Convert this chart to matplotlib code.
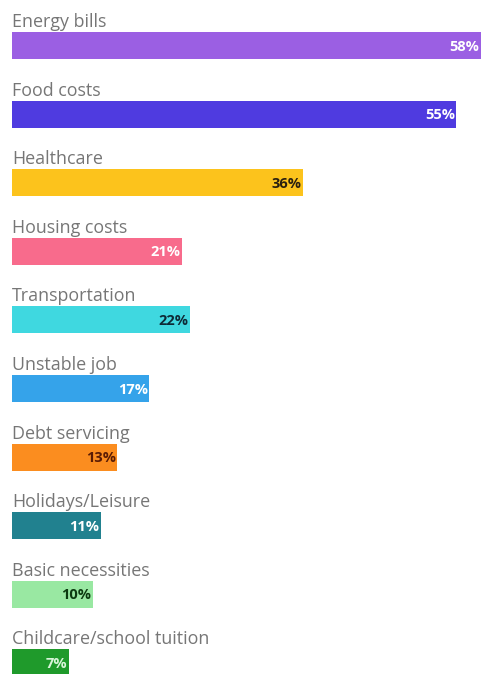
import matplotlib.pyplot as plt

categories = [
    "Energy bills", "Food costs", "Healthcare", "Housing costs",
    "Transportation", "Unstable job", "Debt servicing", "Holidays/Leisure",
    "Basic necessities", "Childcare/school tuition",
]
shares = [58, 55, 36, 21, 22, 17, 13, 11, 10, 7]
bar_colors = [
    "#9b5fe3", "#4f3be0", "#fcc31c", "#f86b8c", "#3fd8e0",
    "#35a3ea", "#fb8d1f", "#21818f", "#99e8a2", "#1f9a2b",
]
value_colors = [
    "white", "white", "#2a2010", "white", "#0e2a36",
    "white", "#5a1c05", "white", "#0c3a10", "#d9f5d9",
]

plt.rcParams["font.family"] = ["Open Sans", "DejaVu Sans"]

fig = plt.figure(figsize=(4.83, 6.74), dpi=100)
ax = fig.add_axes([12 / 483, 0, 471 / 483, 1])

bar_h = 0.394
ypos = list(range(len(categories)))
ax.barh(ypos, shares, height=bar_h, color=bar_colors, left=0)

for i, (cat, v) in enumerate(zip(categories, shares)):
    # category name sits just above its bar
    ax.annotate(cat, xy=(0, i - bar_h / 2), xytext=(0, 3.6),
                textcoords="offset points", ha="left", va="baseline",
                fontsize=12.9, color="#767676")
    # value label right-aligned inside the bar end
    ax.annotate(f"{v}%", xy=(v, i), xytext=(-1, -0.8),
                textcoords="offset points", ha="right", va="center",
                fontsize=10.5, fontweight="bold", color=value_colors[i])

ax.set_xlim(0, 58.3)
ax.set_ylim(9.162, -0.663)
ax.axis("off")

fig.savefig("out.png", dpi=100, facecolor="white")
